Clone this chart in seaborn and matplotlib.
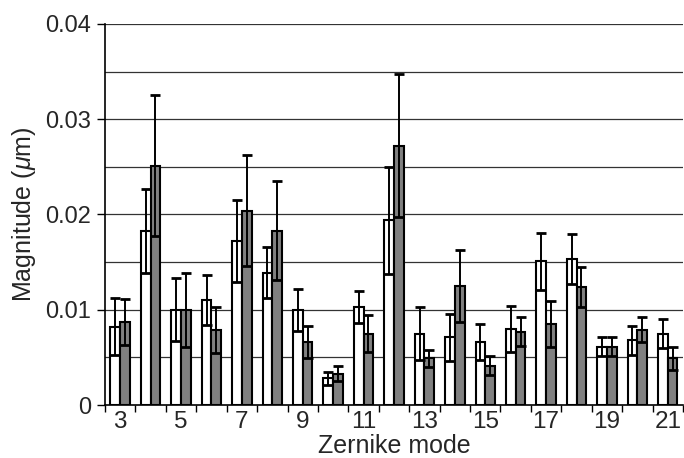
import numpy as np
import pandas as pd
import matplotlib
matplotlib.use("Agg")
import matplotlib.pyplot as plt
import seaborn as sns

modes = list(range(3, 22))
white_vals = [0.0082, 0.0183, 0.0100, 0.0110, 0.0172, 0.0139, 0.0100, 0.0028, 0.0103, 0.0194,
              0.0075, 0.0071, 0.0066, 0.0080, 0.0151, 0.0153, 0.0061, 0.0068, 0.0075]
white_err = [0.0030, 0.0044, 0.0033, 0.0026, 0.0043, 0.0027, 0.0022, 0.0007, 0.0017, 0.0056,
             0.0028, 0.0025, 0.0019, 0.0024, 0.0030, 0.0026, 0.0010, 0.0015, 0.0015]
grey_vals = [0.0087, 0.0251, 0.0100, 0.0079, 0.0204, 0.0183, 0.0066, 0.0033, 0.0075, 0.0272,
             0.0049, 0.0125, 0.0041, 0.0077, 0.0085, 0.0124, 0.0061, 0.0079, 0.0049]
grey_err = [0.0024, 0.0074, 0.0039, 0.0024, 0.0058, 0.0052, 0.0017, 0.0008, 0.0019, 0.0075,
            0.0009, 0.0038, 0.0010, 0.0015, 0.0024, 0.0021, 0.0010, 0.0013, 0.0012]
groups = ["A", "B"]
x_ticklabels = [str(m) for m in modes[::2]]

df = pd.DataFrame({
    "mode": [str(m) for m in modes] * 2,
    "value": white_vals + grey_vals,
    "err": white_err + grey_err,
    "group": [groups[0]] * len(modes) + [groups[1]] * len(modes),
})

sns.set_style("white")
plt.rcParams["font.family"] = ["Liberation Sans", "DejaVu Sans"]
plt.rcParams["mathtext.fontset"] = "custom"
plt.rcParams["mathtext.it"] = "Liberation Sans:italic"

fig = plt.figure(figsize=(6.84, 4.58), dpi=100)
ax = fig.add_axes([0.1535, 0.1157, 0.845, 0.832])

# gridlines
for yv in np.arange(0.005, 0.0401, 0.005):
    ax.axhline(yv, color="#333333", lw=0.9, zorder=0)

sns.barplot(data=df, x="mode", y="value", hue="group", hue_order=groups,
            palette=["white", "#808080"], edgecolor="black", linewidth=1.5,
            width=0.64, errorbar=None, legend=False, ax=ax, zorder=2)

# error bars from bar patches (ordered by hue, then category)
patches = [p for p in ax.patches if p.get_height() > 0]
n = len(modes)
errs = white_err + grey_err
xs = [p.get_x() + p.get_width() / 2 for p in patches]
ys = [p.get_height() for p in patches]
ax.errorbar(xs, ys, yerr=errs, fmt="none", ecolor="black", elinewidth=1.4,
            capsize=3.6, capthick=2.0, zorder=3)

ax.set_xlim(-0.5, n - 0.5)
ax.set_ylim(0, 0.04)
ax.set_yticks([0, 0.01, 0.02, 0.03, 0.04])
ax.set_yticklabels(["0", "0.01", "0.02", "0.03", "0.04"], fontsize=17)
ax.set_xticks(range(0, n, 2))
ax.set_xticklabels(x_ticklabels, fontsize=17.5)
ax.set_xticks(np.arange(-0.5, n, 1.0), minor=True)
ax.tick_params(axis="x", which="major", length=0, pad=4)
ax.tick_params(axis="x", which="minor", length=5, width=1, color="black", direction="out", bottom=True)
ax.tick_params(axis="y", which="major", length=6, width=1, color="black", direction="out", left=True, pad=4)

for s in ["top", "right"]:
    ax.spines[s].set_visible(False)
for s in ["left", "bottom"]:
    ax.spines[s].set_color("black")
    ax.spines[s].set_linewidth(1.2)

ax.set_xlabel("Zernike mode", fontsize=18, labelpad=1)
ax.set_ylabel(r"Magnitude ($\mathit{\mu}$m)", fontsize=18, labelpad=5)

fig.savefig("out.png", dpi=100)
